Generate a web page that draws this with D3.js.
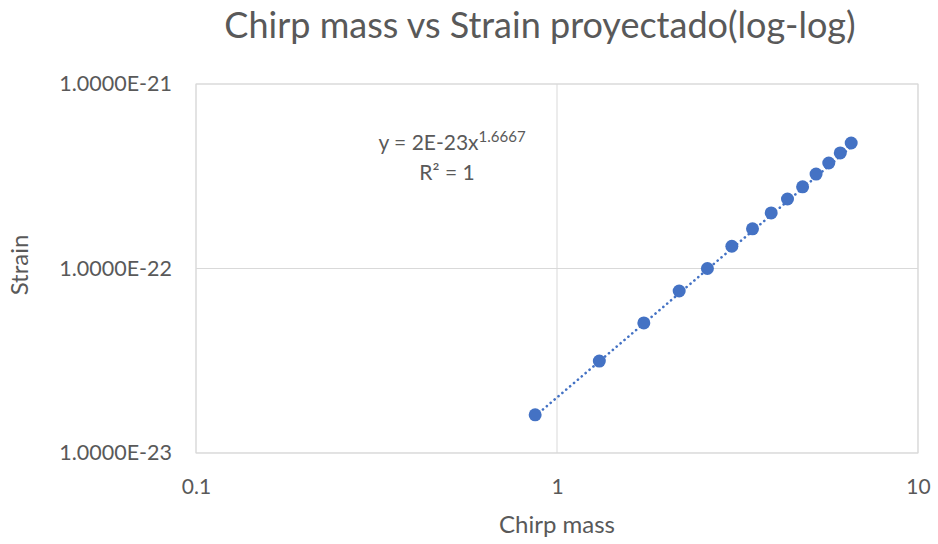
<!DOCTYPE html>
<html><head><meta charset="utf-8">
<script src="https://cdn.jsdelivr.net/npm/d3@7"></script>
<style>body{margin:0;background:#fff}text{font-family:Lato,"Open Sans",sans-serif;fill:#595959}</style>
</head><body><svg id="c" width="938" height="544"></svg>
<script>
const chirpMass = [0.87,1.31,1.74,2.18,2.61,3.05,3.48,3.92,4.35,4.79,5.22,5.66,6.09,6.53];
const strain = [1.61e-23,3.15e-23,5.07e-23,7.55e-23,1.0e-22,1.32e-22,1.64e-22,2.0e-22,2.38e-22,2.77e-22,3.25e-22,3.73e-22,4.23e-22,4.79e-22];
const xTicks = [0.1,1,10];
const yTicks = [1e-23,1e-22,1e-21];
const xTickLabels = ["0.1","1","10"];
const yTickLabels = ["1.0000E-23","1.0000E-22","1.0000E-21"];
const trendCoef = 2e-23, trendExp = 1.6667;

const svg = d3.select("#c");
const L=196,R=918,T=84,B=453;
const x = d3.scaleLog().domain([0.1,10]).range([L,R]);
const y = d3.scaleLog().domain([1e-23,1e-21]).range([B,T]);

svg.append("g").selectAll("line").data(xTicks).join("line")
  .attr("x1",d=>x(d)).attr("x2",d=>x(d)).attr("y1",T).attr("y2",B)
  .attr("stroke","#d9d9d9").attr("stroke-width",1);
svg.append("g").selectAll("line").data(yTicks).join("line")
  .attr("y1",d=>y(d)).attr("y2",d=>y(d)).attr("x1",L).attr("x2",R)
  .attr("stroke","#d9d9d9").attr("stroke-width",1);
svg.append("rect").attr("x",L).attr("y",T).attr("width",R-L).attr("height",B-T)
  .attr("fill","none").attr("stroke","#d9d9d9");

const xa = d3.axisBottom(x).tickValues(xTicks).tickFormat((d,i)=>xTickLabels[i]).tickSize(0).tickPadding(26);
svg.append("g").attr("transform",`translate(0,${B})`).call(xa)
  .call(g=>g.select(".domain").remove())
  .selectAll("text").style("font-size","21px").attr("fill","#595959");
const ya = d3.axisLeft(y).tickValues(yTicks).tickFormat((d,i)=>yTickLabels[i]).tickSize(0).tickPadding(24);
svg.append("g").attr("transform",`translate(${L},0)`).call(ya)
  .call(g=>g.select(".domain").remove())
  .selectAll("text").style("font-size","21.5px").attr("fill","#595959");

const trend = d3.line().x(d=>x(d)).y(d=>y(trendCoef*Math.pow(d,trendExp)));
svg.append("path").datum([chirpMass[0],chirpMass[chirpMass.length-1]])
  .attr("d",trend).attr("fill","none").attr("stroke","#4472c4")
  .attr("stroke-width",2.6).attr("stroke-dasharray","0.1,5").attr("stroke-linecap","round");

svg.append("g").selectAll("circle").data(chirpMass).join("circle")
  .attr("cx",d=>x(d)).attr("cy",(d,i)=>y(strain[i])).attr("r",6.5).attr("fill","#4472c4");

svg.append("text").attr("x",540).attr("y",38).attr("text-anchor","middle")
  .style("font-size","36px").text("Chirp mass vs Strain proyectado(log-log)");
svg.append("text").attr("x",557).attr("y",533).attr("text-anchor","middle")
  .style("font-size","24px").text("Chirp mass");
svg.append("text").attr("transform","translate(28,265) rotate(-90)").attr("text-anchor","middle")
  .style("font-size","24px").text("Strain");

const eq = svg.append("text").attr("x",452).attr("y",150).attr("text-anchor","middle").style("font-size","21px");
eq.append("tspan").text("y = 2E-23x");
eq.append("tspan").attr("dy",-8).style("font-size","15px").text("1.6667");
svg.append("text").attr("x",447).attr("y",180).attr("text-anchor","middle").style("font-size","21px").text("R² = 1");
</script></body></html>
